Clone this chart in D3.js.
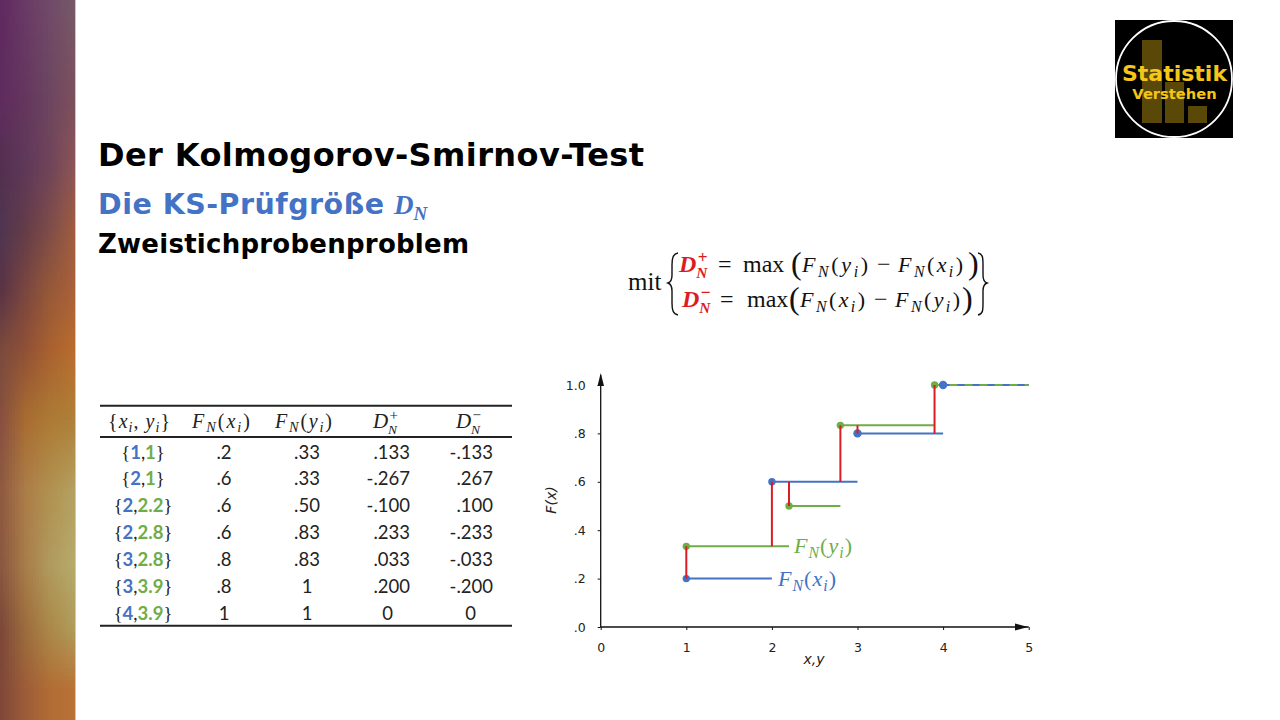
<!DOCTYPE html>
<html lang="de"><head><meta charset="utf-8">
<script src="https://cdn.jsdelivr.net/npm/d3@7"></script>
<style>html,body{margin:0;background:#fff;overflow:hidden}svg{display:block}</style>
</head><body><svg id="c" width="1280" height="720"></svg>
<script>
// --- data ---
const xTicks=[0,1,2,3,4,5];
const yTicks=[0,.2,.4,.6,.8,1];
const stepsX=[{x0:1,x1:2,y:.2},{x0:2,x1:3,y:.6},{x0:3,x1:4,y:.8},{x0:4,x1:5,y:1}];
const stepsY=[{x0:1,x1:2.2,y:1/3},{x0:2.2,x1:2.8,y:.5},{x0:2.8,x1:3.9,y:5/6},{x0:3.9,x1:5,y:1}];
const diffs=[{x:1,y0:.2,y1:1/3},{x:2,y0:1/3,y1:.6},{x:2.2,y0:.5,y1:.6},{x:2.8,y0:.6,y1:5/6},{x:3,y0:.8,y1:5/6},{x:3.9,y0:.8,y1:1}];
const rowX=["1","2","2","2","3","3","4"];
const rowY=["1","1","2.2","2.8","2.8","3.9","3.9"];
const colFx=[".2",".6",".6",".6",".8",".8","1"];
const colFy=[".33",".33",".50",".83",".83","1","1"];
const colDp=[".133","-.267","-.100",".233",".033",".200","0"];
const colDm=["-.133",".267",".100","-.233","-.033","-.200","0"];
const bandStops=[0,100,170,230,290,350,420,490,565,630,690,720];
const bandRows=[
 ["#5f2a60","#6a3a66","#704a68","#755868"],
 ["#5f2c5e","#64365e","#6c4560","#7c4f5c"],
 ["#53304f","#5f3858","#6f4458","#8c5455"],
 ["#4f3550","#643c48","#7e4c48","#9e5c40"],
 ["#5a3345","#7a4640","#955838","#a9603a"],
 ["#7a4a3c","#905036","#a8602f","#b86c2c"],
 ["#885040","#a86c30","#ac7a34","#ae8038"],
 ["#8e5a40","#ac7c48","#b09050","#b4a060"],
 ["#8a5840","#a87c48","#b09a5c","#b5aa6c"],
 ["#7c4838","#9c6c3c","#aa8848","#b09a58"],
 ["#804838","#9c5c38","#b06c34","#b87236"],
 ["#804838","#9c5c38","#b06c34","#b87236"]];
const BLUE="#4472C4",GREEN="#70AD47",RED="#DC1C22";
const SERIF="'Liberation Serif',serif",SANS="'DejaVu Sans',sans-serif",LATO="Lato,sans-serif";

const svg=d3.select("#c");

// --- side band ---
const colInterp=bandRows.map(r=>d3.piecewise(d3.interpolateRgb,r));
const bandY=d3.scaleLinear().domain(bandStops).range(d3.range(bandStops.length)).clamp(true);
const bandG=svg.append("g").attr("shape-rendering","crispEdges");
for(let yy=0;yy<720;yy+=4){
 const p=bandY(yy+2),i=Math.min(Math.floor(p),bandRows.length-2),f=p-i;
 for(let xx=0;xx<75;xx+=3){
  const u=xx/72;
  bandG.append("rect").attr("x",xx).attr("y",yy).attr("width",3).attr("height",4)
   .attr("fill",d3.interpolateRgb(colInterp[i](u),colInterp[i+1](u))(f));
 }
}
svg.append("rect").attr("x",75).attr("width",1).attr("height",720).attr("fill","#d8c4b8");

// --- headings ---
function head(x,yy,size,fill,s,len){svg.append("text").attr("x",x).attr("y",yy).attr("font-family",SANS).attr("font-weight",700).attr("font-size",size).attr("fill",fill).attr("textLength",len).text(s);}
head(98,166,32,"#000","Der Kolmogorov-Smirnov-Test",546);
head(98,214,28.5,BLUE,"Die KS-Prüfgröße",286);
const dn=svg.append("text").attr("x",394).attr("y",214).attr("font-family",SERIF).attr("font-style","italic").attr("font-weight",700).attr("font-size",27).attr("fill",BLUE);
dn.append("tspan").text("D");dn.append("tspan").attr("dy",6).attr("font-size",19).text("N");
head(98,253,26,"#000","Zweistichprobenproblem",371);

// --- math helpers ---
function F(parent,x,y,size,fill,arg,len){ // F_N(arg_i)
 const t=parent.append("text").attr("x",x).attr("y",y).attr("font-family",SERIF).attr("font-style","italic").attr("font-size",size).attr("fill",fill).attr("textLength",len);
 t.append("tspan").text("F");
 t.append("tspan").attr("dy",size*.22).attr("font-size",size*.72).text("N");
 t.append("tspan").attr("dy",-size*.22).attr("font-style","normal").text("(");
 t.append("tspan").text(arg);
 t.append("tspan").attr("dy",size*.22).attr("font-size",size*.72).text("i");
 t.append("tspan").attr("dy",-size*.22).attr("font-style","normal").text(")");
}
function D(parent,x,y,size,fill,sign,bold){
 const g=parent.append("text").attr("font-family",SERIF).attr("font-style","italic").attr("fill",fill).attr("font-weight",bold?700:400);
 g.append("tspan").attr("x",x).attr("y",y).attr("font-size",size).text("D");
 g.append("tspan").attr("x",x+size*.72).attr("y",y+size*.27).attr("font-size",size*.64).text("N");
 g.append("tspan").attr("x",x+size*.78).attr("y",y-size*.38).attr("font-size",size*.72).attr("font-style","normal").text(sign);
}
function plain(x,y,size,s,anchor){return svg.append("text").attr("x",x).attr("y",y).attr("font-family",SERIF).attr("font-size",size).attr("fill","#111").attr("text-anchor",anchor||"start").text(s);}

// --- formula ---
plain(628,290,25,"mit");
svg.append("path").attr("fill","none").attr("stroke","#111").attr("stroke-width",1.4)
 .attr("d","M678,253 C673,254 672,258 672,265 L672,275 C672,280 671,282 668,283 C671,284 672,286 672,291 L672,303 C672,310 673,314 678,315");
svg.append("path").attr("fill","none").attr("stroke","#111").attr("stroke-width",1.4)
 .attr("d","M978,253 C983,254 983,258 983,265 L983,275 C983,280 984,282 987,283 C984,284 983,286 983,291 L983,303 C983,310 983,314 978,315");
D(svg,679,272,24,RED,"+",true);
plain(718,272,24,"=");plain(743,272,24,"max");
plain(791,274,32,"(");
F(svg,802,272,22,"#111","y",66);
plain(877,272,24,"−");
F(svg,898,272,22,"#111","x",65);
plain(968,274,32,")");
D(svg,682,307,24,RED,"−",true);
plain(720,307,24,"=");plain(747,307,24,"max");
plain(789,309,32,"(");
F(svg,800,307,22,"#111","x",65);
plain(874,307,24,"−");
F(svg,895,307,22,"#111","y",65);
plain(962,309,32,")");

// --- table ---
const rules=[405.7,437,625.7];
svg.append("g").selectAll("line").data(rules).join("line").attr("x1",100).attr("x2",512).attr("y1",d=>d).attr("y2",d=>d).attr("stroke","#222").attr("stroke-width",2);
const hy=428;
(function(){const t=svg.append("text").attr("x",108).attr("y",hy).attr("font-family",SERIF).attr("font-size",20).attr("fill","#222").attr("font-style","italic").attr("textLength",62);
 t.append("tspan").attr("font-style","normal").text("{");t.append("tspan").text("x");t.append("tspan").attr("dy",4).attr("font-size",14).text("i");
 t.append("tspan").attr("dy",-4).attr("font-style","normal").text(", ");t.append("tspan").text("y");t.append("tspan").attr("dy",4).attr("font-size",14).text("i");
 t.append("tspan").attr("dy",-4).attr("font-style","normal").text("}");})();
F(svg,192,hy,20,"#222","x",58);
F(svg,275,hy,20,"#222","y",57);
D(svg,373,hy,21,"#222","+",false);
D(svg,456,hy,21,"#222","−",false);
const rowScale=d3.scalePoint().domain(d3.range(7)).range([458.5,619.5]);
rowX.forEach((rx,i)=>{
 const t=svg.append("text").attr("x",143).attr("y",rowScale(i)).attr("text-anchor","middle").attr("font-family",LATO).attr("font-size",18.5);
 t.append("tspan").attr("fill","#222").attr("font-family",SERIF).text("{");
 t.append("tspan").attr("fill",BLUE).attr("font-weight",700).text(rx);
 t.append("tspan").attr("fill","#222").text(",");
 t.append("tspan").attr("fill",GREEN).attr("font-weight",700).text(rowY[i]);
 t.append("tspan").attr("fill","#222").attr("font-family",SERIF).text("}");
});
function col(vals,x,anchor){svg.append("g").attr("font-family",LATO).attr("font-size",18.5).attr("fill","#222").attr("text-anchor",anchor)
 .selectAll("text").data(vals).join("text").attr("x",(d)=>d==="0"?x.zero:x.pos).attr("y",(d,i)=>rowScale(i)).text(d=>d);}
col(colFx,{pos:224},"middle");col(colFy,{pos:307},"middle");
col(colDp,{pos:410,zero:393},"end");col(colDm,{pos:493,zero:476},"end");

// --- chart ---
const x=d3.scaleLinear().domain([0,5]).range([600.7,1028.7]);
const y=d3.scaleLinear().domain([0,1]).range([627,385]);
const fmtY=d=>d3.format(".1f")(d).replace(/^0/,"");
const ax=svg.append("g").attr("transform","translate(0,627)").call(d3.axisBottom(x).tickValues(xTicks).tickFormat(d3.format("d")).tickSize(3).tickPadding(13));
const ay=svg.append("g").attr("transform","translate(600.7,0)").call(d3.axisLeft(y).tickValues(yTicks).tickFormat(fmtY).tickSize(3).tickPadding(12));
[ax,ay].forEach(a=>{a.select(".domain").remove();a.selectAll("text").attr("font-family",SANS).attr("font-size",12.5).attr("fill","#222");a.selectAll("line").attr("stroke","#111");});
svg.append("line").attr("x1",x(0)).attr("x2",x(5)).attr("y1",y(0)).attr("y2",y(0)).attr("stroke","#111").attr("stroke-width",1.3);
svg.append("line").attr("x1",x(0)).attr("x2",x(0)).attr("y1",y(0)).attr("y2",375).attr("stroke","#111").attr("stroke-width",1.3);
svg.append("path").attr("d","M1028,627 L1015,623.5 L1015,630.5 Z").attr("fill","#111");
svg.append("path").attr("d","M600.7,373 L597.5,386 L604,386 Z").attr("fill","#111");
svg.append("text").attr("transform","translate(556,500) rotate(-90)").attr("text-anchor","middle").attr("font-family",SANS).attr("font-style","italic").attr("font-size",14).attr("fill","#222").text("F(x)");
svg.append("text").attr("x",814).attr("y",664).attr("text-anchor","middle").attr("font-family",SANS).attr("font-style","italic").attr("font-size",14).attr("fill","#222").text("x,y");

function steps(data,color){return svg.append("g").selectAll("line").data(data).join("line")
 .attr("x1",d=>x(d.x0)).attr("x2",d=>x(d.x1)).attr("y1",d=>y(d.y)).attr("y2",d=>y(d.y)).attr("stroke",color).attr("stroke-width",2);}
steps(stepsX,BLUE);
steps(stepsY,GREEN).filter(d=>d.y===1).attr("stroke-dasharray","8 7");
function dots(data,color,rad){svg.append("g").selectAll("circle").data(data).join("circle")
 .attr("cx",d=>x(d.x0)).attr("cy",d=>y(d.y)).attr("r",rad).attr("fill",color);}
dots(stepsX,BLUE,d=>d.x0>=3?4.2:3.7);
dots(stepsY,GREEN,3.7);
svg.append("g").selectAll("line").data(diffs).join("line")
 .attr("x1",d=>x(d.x)).attr("x2",d=>x(d.x)).attr("y1",d=>y(d.y0)).attr("y2",d=>y(d.y1)).attr("stroke",RED).attr("stroke-width",2);
F(svg,794,553,22,GREEN,"y",58);
F(svg,778,586,22,BLUE,"x",58);

// --- logo ---
svg.append("rect").attr("x",1115).attr("y",20).attr("width",118).attr("height",118).attr("fill","#000");
const logoBars=[[1142,1162,40],[1165,1184,82],[1188,1207,106]];
svg.append("g").selectAll("rect").data(logoBars).join("rect").attr("x",d=>d[0]).attr("width",d=>d[1]-d[0]).attr("y",d=>d[2]).attr("height",d=>123-d[2]).attr("fill","#5a4808");
svg.append("circle").attr("cx",1174).attr("cy",79).attr("r",58).attr("fill","none").attr("stroke","#fff").attr("stroke-width",1.8);
svg.append("text").attr("x",1174.5).attr("y",80.5).attr("text-anchor","middle").attr("font-family",SANS).attr("font-weight",700).attr("font-size",22).attr("fill","#F5C518").text("Statistik");
svg.append("text").attr("x",1174.5).attr("y",98.5).attr("text-anchor","middle").attr("font-family",SANS).attr("font-weight",700).attr("font-size",14.7).attr("fill","#F5C518").text("Verstehen");
</script></body></html>
